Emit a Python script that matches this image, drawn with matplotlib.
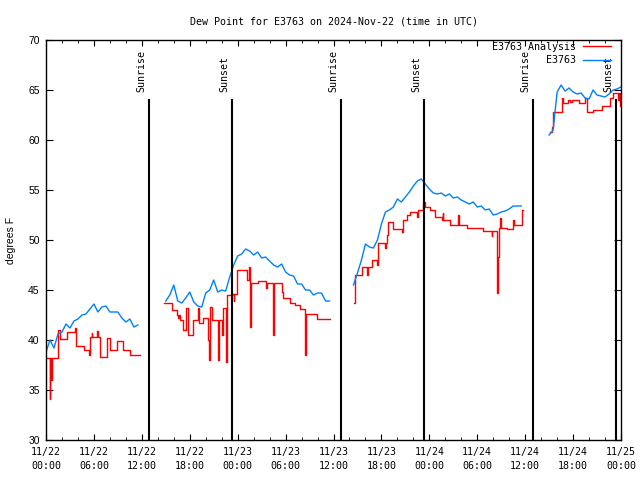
#!/usr/bin/env python3
"""
Dew point plot for station E3763, obs vs analysis
"""
import numpy as np
import pandas as pd
import matplotlib
matplotlib.use("Agg")
import matplotlib.pyplot as plt
import matplotlib.dates as mdates

day0 = pd.Timestamp("2024-11-22 00:00")

# station obs (deg F), 30 min samples, one list per run of data
obs_starts = ["2024-11-22 00:00", "2024-11-22 15:00", "2024-11-23 14:30", "2024-11-24 15:00"]
obs_1 = [38.8, 40.0, 39.2, 40.6, 40.8, 41.6, 41.2, 41.9, 42.1, 42.5, 42.6, 43.1,
         43.6, 42.8, 43.3, 43.4, 42.8, 42.8, 42.8, 42.2, 41.8, 42.1, 41.3, 41.5]
obs_2 = [43.9, 44.5, 45.5, 43.9, 43.7, 44.2, 44.8, 43.8, 43.4, 43.3, 44.7, 45.0,
         46.0, 44.8, 45.0, 44.9, 46.3, 47.5, 48.4, 48.6, 49.1, 48.9, 48.5, 48.8,
         48.2, 48.3, 47.9, 47.5, 47.3, 47.6, 46.8, 46.5, 46.4, 45.6, 45.6, 45.0,
         45.0, 44.5, 44.7, 44.7, 43.9, 43.9]
obs_3 = [45.5, 46.7, 48.0, 49.6, 49.3, 49.2, 50.0, 51.6, 52.8, 53.0, 53.3, 54.1,
         53.8, 54.3, 54.8, 55.4, 55.9, 56.1, 55.6, 55.1, 54.7, 54.6, 54.7, 54.4,
         54.6, 54.2, 54.3, 54.0, 53.8, 53.6, 53.8, 53.3, 53.4, 53.0, 53.1, 52.5,
         52.6, 52.8, 52.9, 53.1, 53.4, 53.4, 53.4]
obs_4 = [60.5, 61.0, 64.8, 65.5, 64.9, 65.2, 64.8, 64.6, 64.7, 64.2, 64.1, 65.0,
         64.5, 64.4, 64.3, 64.6, 65.0, 65.1, 65.3]
obs_runs = [obs_1, obs_2, obs_3, obs_4]

# analysis: step changes, hours since 11/22 00Z and value
ana_hours_1 = [0.08, 0.45, 0.55, 0.65, 0.75, 1.55, 1.7, 2.6, 3.6, 3.7, 4.7, 5.4,
               5.5, 5.7, 5.8, 6.35, 6.45, 6.75, 7.6, 8.0, 8.85, 9.7, 10.5, 11.8]
ana_vals_1 = [38.2, 34.1, 38.2, 36.0, 38.2, 41.0, 40.1, 40.8, 41.2, 39.4, 39.0, 38.5,
              40.3, 40.7, 40.3, 40.9, 40.3, 38.3, 40.2, 39.0, 39.9, 39.0, 38.5, 38.5]
ana_hours_2 = [14.77, 15.73, 16.36, 16.5, 16.6, 16.78, 17.2, 17.53, 17.82, 18.36, 19.07,
               19.2, 19.7, 20.33, 20.45, 20.5, 20.74, 21.58, 21.66, 22.1, 22.2, 22.55,
               22.62, 23.33, 23.5, 23.6, 23.96, 25.13, 25.46, 25.6, 25.7, 26.6, 27.55,
               27.7, 28.46, 28.6, 29.5, 29.7, 30.55, 31.17, 31.8, 32.43, 32.55, 33.9, 35.56]
ana_vals_2 = [43.7, 43.0, 42.5, 42.2, 42.5, 42.0, 41.0, 43.2, 40.5, 42.0, 43.2,
              41.7, 42.2, 40.0, 38.0, 43.3, 42.0, 38.0, 42.0, 40.5, 43.2, 37.8,
              44.5, 44.6, 43.9, 44.6, 47.0, 46.0, 47.3, 41.3, 45.7, 45.9, 45.2,
              45.7, 40.5, 45.7, 44.8, 44.2, 43.7, 43.5, 43.1, 38.5, 42.6, 42.1, 42.1]
ana_hours_3 = [38.56, 38.69, 39.52, 40.15, 40.36, 40.78, 41.4, 41.61, 42.45, 42.55,
               42.65, 42.86, 43.49, 44.53, 44.74, 45.16, 45.58, 46.41, 46.55, 46.62,
               47.25, 47.45, 48.08, 48.71, 49.54, 49.65, 49.75, 50.58, 51.63, 51.75,
               52.67, 54.76, 55.8, 55.9, 56.43, 56.64, 56.72, 56.85, 56.95, 57.68,
               58.51, 58.6, 59.56, 59.77]
ana_vals_3 = [43.7, 46.5, 47.3, 46.5, 47.3, 48.0, 47.5, 49.7, 49.2, 49.7,
              50.5, 51.8, 51.1, 50.8, 52.0, 52.5, 52.8, 52.3, 52.8, 53.0,
              53.8, 53.3, 53.0, 52.3, 52.0, 52.7, 52.0, 51.5, 52.5, 51.5,
              51.2, 50.9, 50.4, 50.9, 44.7, 48.3, 51.2, 52.2, 51.2, 51.1,
              52.0, 51.5, 53.0, 53.0]
ana_hours_4 = [63.1, 63.3, 63.52, 64.57, 64.7, 65.4, 65.6, 65.82, 66.78, 67.49, 67.78,
               68.53, 69.57, 70.62, 70.95, 71.66, 71.75, 71.85, 72.0]
ana_vals_4 = [60.8, 61.3, 62.8, 64.2, 63.7, 64.0, 63.8, 64.0, 63.7, 64.2, 62.8,
              63.0, 63.4, 64.2, 64.7, 64.0, 64.7, 63.4, 64.0]
ana_runs = [(ana_hours_1, ana_vals_1), (ana_hours_2, ana_vals_2),
            (ana_hours_3, ana_vals_3), (ana_hours_4, ana_vals_4)]

sun_times = ["2024-11-22 12:57", "2024-11-22 23:20", "2024-11-23 12:58",
             "2024-11-23 23:21", "2024-11-24 12:59", "2024-11-24 23:21"]
sun_labels = ["Sunrise", "Sunset", "Sunrise", "Sunset", "Sunrise", "Sunset"]

MONO = "DejaVu Sans Mono"
SANS = "Liberation Sans"
RED = "#ff0000"
BLUE = "#0080ff"

fig = plt.figure(figsize=(6.4, 4.8), dpi=100)
ax = fig.add_axes([46 / 640, 40 / 480, 575 / 640, 400 / 480])

# analysis first, obs drawn on top
for i, (hrs, vals) in enumerate(ana_runs):
    t = day0 + pd.to_timedelta(hrs, unit="h")
    ax.plot(t, vals, color=RED, lw=1.0, drawstyle="steps-post",
            label="E3763 Analysis" if i == 0 else None)

for i, (start, vals) in enumerate(zip(obs_starts, obs_runs)):
    t = pd.date_range(start, periods=len(vals), freq="30min")
    ax.plot(t, vals, color=BLUE, lw=1.0, label="E3763" if i == 0 else None)

# sunrise / sunset markers
for ts, lab in zip(sun_times, sun_labels):
    t = pd.Timestamp(ts)
    ax.plot([t, t], [30, 64], color="black", lw=1.5)
    ax.annotate(lab, xy=(t, 64.8), xytext=(-2, 0), textcoords="offset points",
                rotation=90, ha="right", va="bottom", fontsize=7.2, family=MONO)

ax.set_xlim(day0, day0 + pd.Timedelta(hours=72))
ax.set_ylim(30, 70)
ax.set_yticks(np.arange(30, 71, 5))
ax.xaxis.set_major_locator(mdates.HourLocator(byhour=[0, 6, 12, 18]))
ax.xaxis.set_minor_locator(mdates.HourLocator(interval=2))
ax.xaxis.set_major_formatter(mdates.DateFormatter("%m/%d\n%H:%M"))

ax.tick_params(axis="both", which="both", direction="in", top=True, right=True)
ax.tick_params(axis="x", which="major", length=4, pad=5, labelsize=7.2)
ax.tick_params(axis="x", which="minor", length=2.5)
ax.tick_params(axis="y", which="major", length=5, pad=4.5, labelsize=7.5)
for lab in ax.get_xticklabels():
    lab.set_family(MONO)
    lab.set_linespacing(1.5)
for lab in ax.get_yticklabels():
    lab.set_family(SANS)
for sp in ax.spines.values():
    sp.set_linewidth(1.0)

ax.set_ylabel("degrees F", fontsize=7.5, family=SANS)
ax.yaxis.set_label_coords(-30 / 575, 0.5)
ax.set_title("Dew Point for E3763 on 2024-Nov-22 (time in UTC)",
             fontsize=7.2, family=MONO, pad=11.5)

leg = ax.legend(loc="upper right", bbox_to_anchor=(0.982, 0.995), frameon=False,
                markerfirst=False, handlelength=2.8, handletextpad=0.7,
                labelspacing=0.35, borderpad=0, borderaxespad=0,
                prop={"family": MONO, "size": 7.2})

fig.savefig("out.png", dpi=100)
plt.close(fig)
